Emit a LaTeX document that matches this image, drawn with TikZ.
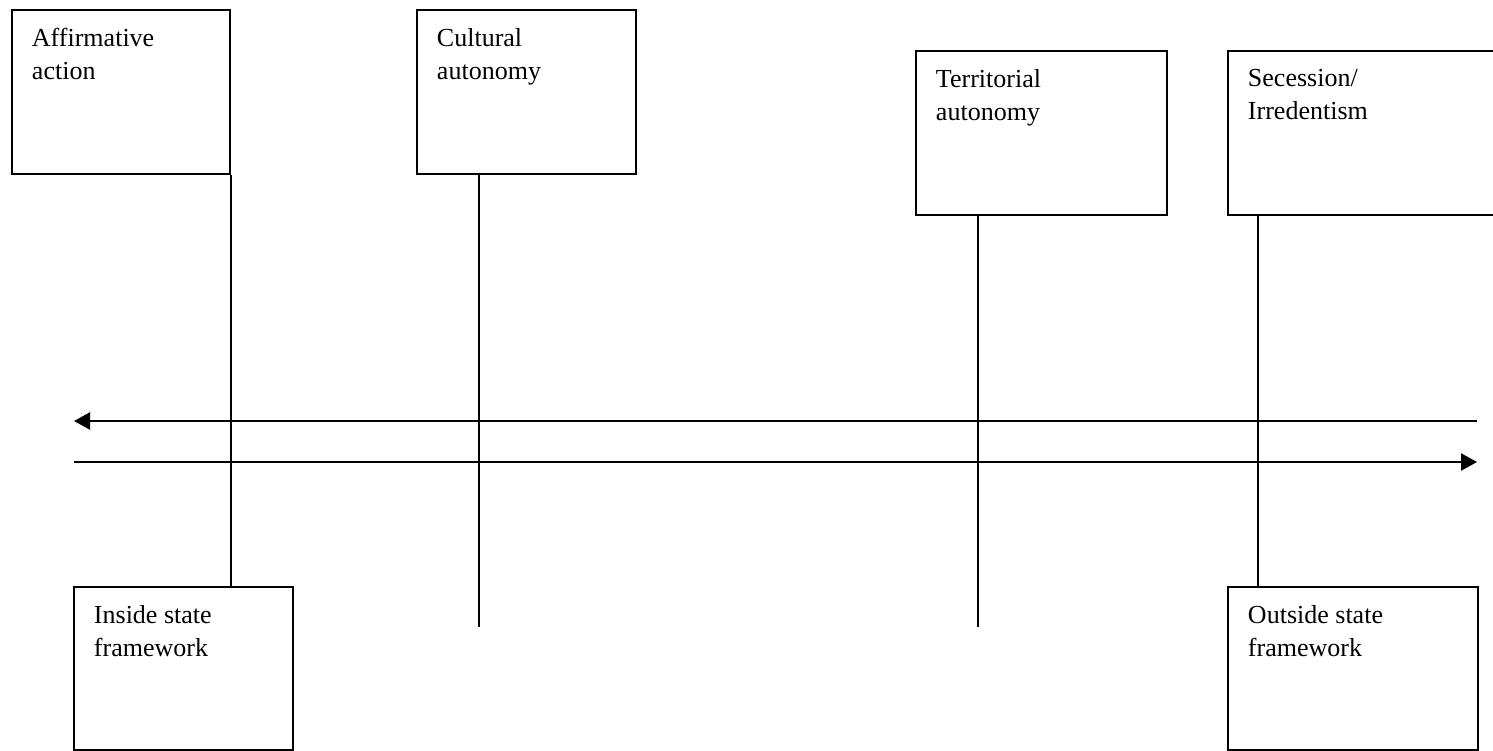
\documentclass[tikz,border=0pt]{standalone}
\usepackage{fontspec}
\setmainfont{Liberation Serif}
\usepackage{tikz}
\usetikzlibrary{arrows.meta, positioning}
\tikzset{
    box/.style={rectangle, draw, line width=1.1pt, anchor=north west, inner xsep=0.4cm, inner ysep=0.36cm, align=left, font=\fontsize{14.8pt}{18.8pt}\selectfont},
    link/.style={line width=1.1pt},
    arrow/.style={-{Triangle[length=0.32cm, width=0.34cm]}, line width=1.3pt},
}
\newcommand{\boxtext}[3]{\parbox[t][#2][t]{#1}{#3}}

\begin{document}
\begin{tikzpicture}
    \useasboundingbox (0,0) rectangle (29.86,-15);
    % upper row
    \node[box] (aff) at (0.22,-0.18)  {\boxtext{3.56cm}{2.56cm}{Affirmative\\action}};
    \node[box] (cult) at (8.32,-0.18) {\boxtext{3.58cm}{2.56cm}{Cultural\\autonomy}};
    \node[box] (terr) at (18.30,-1.00) {\boxtext{4.22cm}{2.56cm}{Territorial\\autonomy}};
    \node[box] (sec) at (24.54,-1.00) {\boxtext{4.70cm}{2.56cm}{Secession/\\Irredentism}};
    % lower row
    \node[box] (inside) at (1.46,-11.72) {\boxtext{3.58cm}{2.54cm}{Inside state\\framework}};
    \node[box] (outside) at (24.54,-11.72) {\boxtext{4.20cm}{2.54cm}{Outside state\\framework}};
    \coordinate (cultEnd) at (9.58,-12.54);
    \coordinate (terrEnd) at (19.56,-12.54);
    \coordinate (secFoot) at (25.16,-12.0);
    \coordinate (leftTop) at (1.48,-8.42);
    \coordinate (rightTop) at (29.54,-8.42);
    \coordinate (leftBot) at (1.48,-9.24);
    \coordinate (rightBot) at (29.54,-9.24);
    \draw[link] (aff.south east) -- (aff.south east |- inside.north);
    \draw[link] (cult.south -| cultEnd) -- (cultEnd);
    \draw[link] (terr.south -| terrEnd) -- (terrEnd);
    \draw[link] (sec.south -| secFoot) -- (secFoot |- outside.north);
    \draw[arrow] (rightTop) -- (leftTop);
    \draw[arrow] (leftBot) -- (rightBot);
\end{tikzpicture}
\end{document}
